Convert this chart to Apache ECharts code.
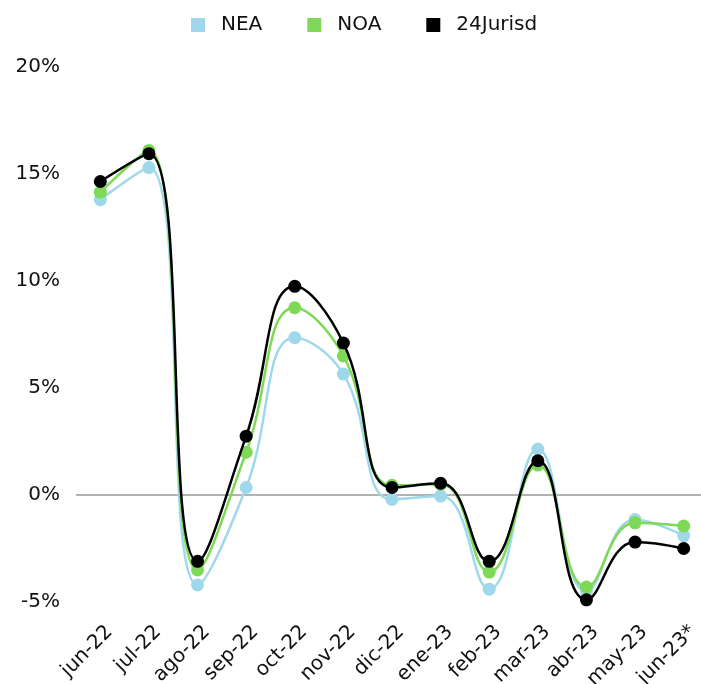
<!DOCTYPE html>
<html><head><meta charset="utf-8">
<script src="https://cdn.jsdelivr.net/npm/echarts@6/dist/echarts.min.js"></script>
<style>html,body{margin:0;padding:0;background:#fff}#c{width:701px;height:684px}</style>
</head><body><div id="c"></div>
<script>
const categories = ['jun-22','jul-22','ago-22','sep-22','oct-22','nov-22','dic-22','ene-23','feb-23','mar-23','abr-23','may-23','jun-23*'];
const nea = [13.8, 15.3, -4.2, 0.35, 7.35, 5.65, -0.2, -0.05, -4.4, 2.15, -4.5, -1.15, -1.9];
const noa = [14.15, 16.1, -3.5, 2.0, 8.75, 6.5, 0.45, 0.5, -3.6, 1.4, -4.3, -1.3, -1.45];
const jur = [14.65, 15.95, -3.1, 2.75, 9.75, 7.1, 0.35, 0.55, -3.1, 1.6, -4.9, -2.2, -2.5];
const yTicks = [-5, 0, 5, 10, 15, 20];

const font = 'DejaVu Sans';
const chart = echarts.init(document.getElementById('c'));
function line(name, data, color, z, extra) {
  return Object.assign({ name, type: 'line', data, smooth: 0.45, symbol: 'circle', symbolSize: 13, z,
    lineStyle: { color, width: 2.5 }, itemStyle: { color }, emphasis: { disabled: true } }, extra || {});
}
chart.setOption({
  animation: false,
  legend: { top: 10, left: 186, itemWidth: 14, itemHeight: 14, icon: 'rect', itemGap: 45,
    textStyle: { fontFamily: font, fontSize: 20, color: '#111', padding: [0, 0, 0, 11] },
    data: ['NEA','NOA','24Jurisd'] },
  grid: { left: 76, right: -7, top: 67, bottom: 82, outerBoundsMode: 'none', containLabel: false },
  xAxis: { type: 'category', data: categories, boundaryGap: true,
    axisLine: { show: false, onZero: false },
    axisTick: { show: false },
    axisLabel: { rotate: 45, interval: 0, fontFamily: font, fontSize: 20, color: '#111', margin: 36,
      padding: [0, -13, 0, 0] } },
  yAxis: { type: 'value', min: -5, max: 20, interval: 5,
    axisLine: { show: false }, axisTick: { show: false }, splitLine: { show: false },
    axisLabel: { fontFamily: font, fontSize: 20, color: '#111', margin: 16,
      formatter: v => yTicks.includes(v) ? v + '%' : '' } },
  series: [
    line('NEA', nea, '#9fd8ea', 1, { markLine: { silent: true, symbol: 'none', label: { show: false },
      lineStyle: { color: '#999', width: 1.5, type: 'solid' }, z: 0, data: [{ yAxis: 0 }] } }),
    line('NOA', noa, '#7ed957', 2),
    line('24Jurisd', jur, '#000000', 3)
  ]
});
</script></body></html>
